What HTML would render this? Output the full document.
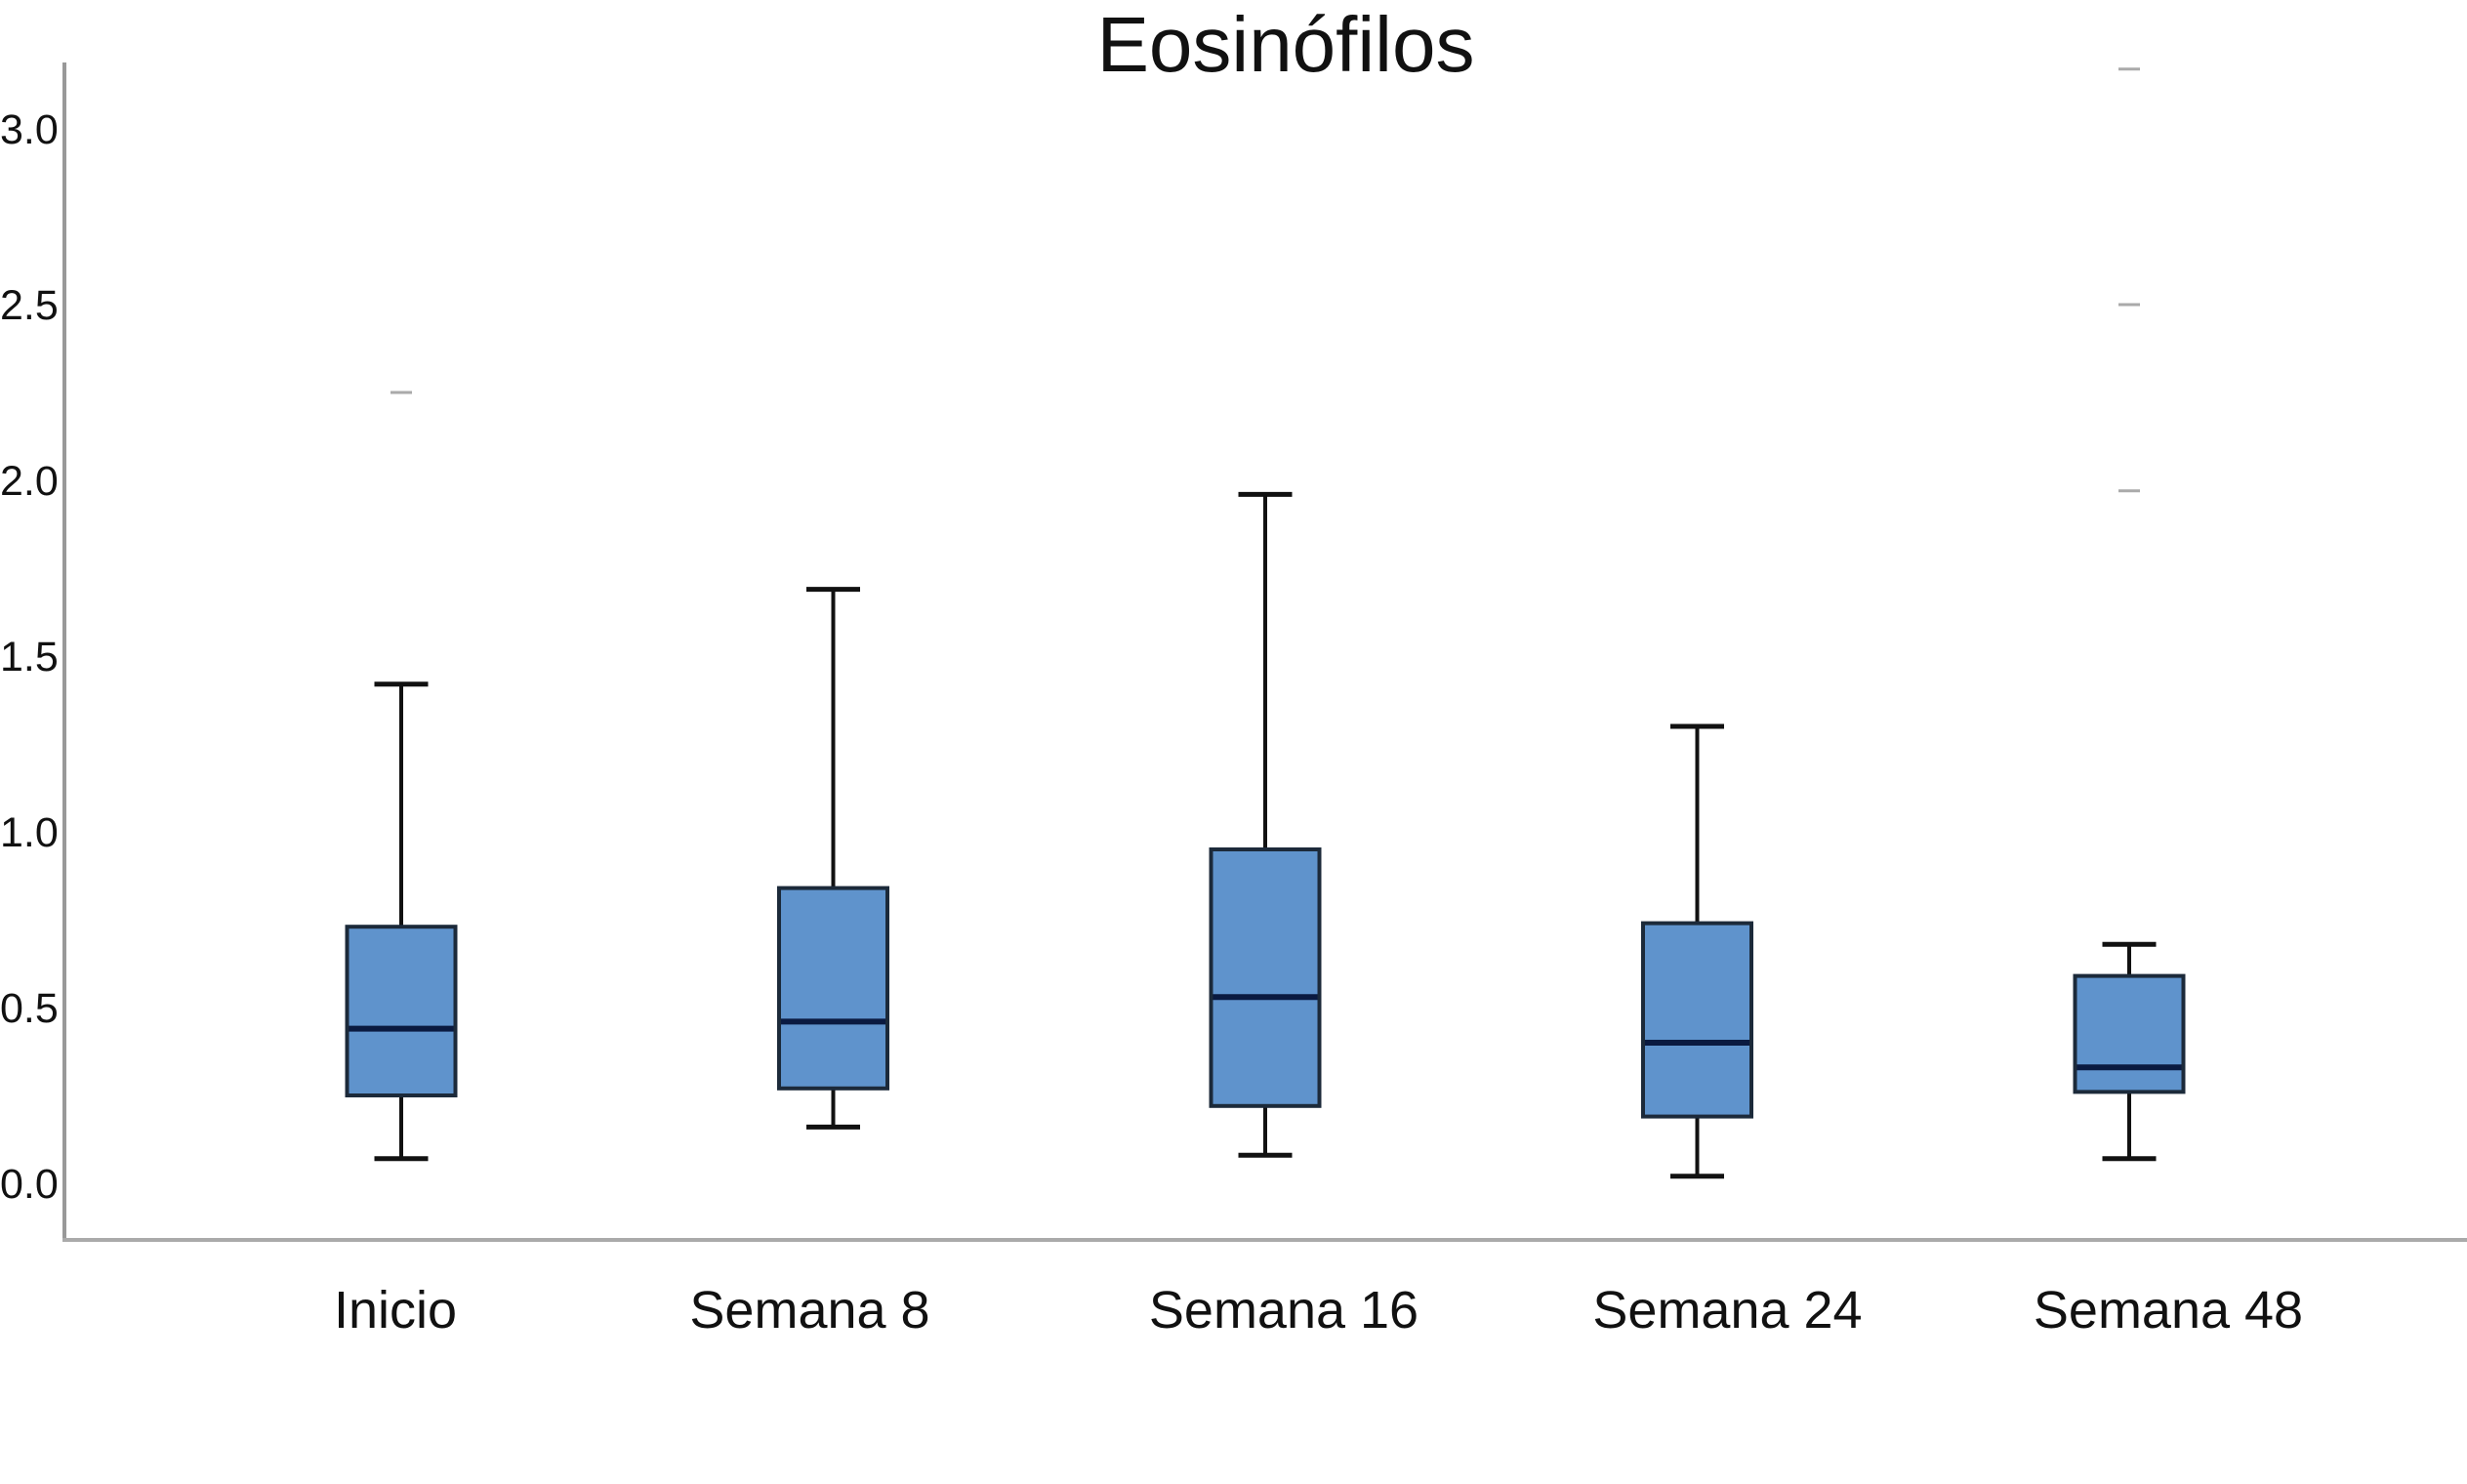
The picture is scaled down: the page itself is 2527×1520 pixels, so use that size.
<!DOCTYPE html>
<html><head><meta charset="utf-8"><style>
html,body{margin:0;padding:0;background:#fff;}
svg{display:block;font-family:"Liberation Sans",sans-serif;}
</style></head><body>
<svg id="chart" width="2527" height="1520" viewBox="0 0 2527 1520">
<text x="1317" y="73" font-size="80" text-anchor="middle" fill="#111">Eosinófilos</text>
<g id="yticks"></g>
<g id="boxes"></g>
<g id="xlabels"></g>
<line x1="66" y1="64" x2="66" y2="1271" stroke="#999" stroke-width="4"/>
<line x1="64" y1="1270" x2="2527" y2="1270" stroke="#aaa" stroke-width="4"/>
</svg>
<script>
const categories=["Inicio","Semana 8","Semana 16","Semana 24","Semana 48"];
const whiskerLow=[0.07,0.16,0.08,0.02,0.07];
const q1=[0.25,0.27,0.22,0.19,0.26];
const median=[0.44,0.46,0.53,0.40,0.33];
const q3=[0.73,0.84,0.95,0.74,0.59];
const whiskerHigh=[1.42,1.69,1.96,1.30,0.68];
const outliers=[[2.25],[],[],[],[1.97,2.50,3.17]];
const yTicks=[0,0.5,1,1.5,2,2.5,3];
const yTickLabels=["0.0","0.5","1.0","1.5","2.0","2.5","3.0"];

const NS="http://www.w3.org/2000/svg";
const labelShift=[-6,-24,19,31,40];
function y(v){return 1212-v*360;}
function x(i){return 411+i*442.5;}
function mk(tag,attrs,parent){const e=document.createElementNS(NS,tag);for(const k in attrs)e.setAttribute(k,attrs[k]);parent.appendChild(e);return e;}
const yg=document.getElementById('yticks');
yTicks.forEach((t,i)=>{
  const e=mk('text',{x:0,y:y(t)+15,'font-size':43,fill:'#111'},yg);
  e.textContent=yTickLabels[i];
  
  
});
const bg=document.getElementById('boxes');
const xg=document.getElementById('xlabels');
categories.forEach((c,i)=>{
  const cx=x(i),bw=111,cw=55;
  const g=mk('g',{},bg);
  
  
  const w1=mk('line',{x1:cx,x2:cx,y1:y(whiskerLow[i]),y2:y(whiskerHigh[i]),stroke:'#111','stroke-width':4},g);
  
  
  const c1=mk('line',{x1:cx-cw/2,x2:cx+cw/2,y1:y(whiskerHigh[i]),y2:y(whiskerHigh[i]),stroke:'#111','stroke-width':5},g);
  
  
  const c2=mk('line',{x1:cx-cw/2,x2:cx+cw/2,y1:y(whiskerLow[i]),y2:y(whiskerLow[i]),stroke:'#111','stroke-width':5},g);
  
  
  const r=mk('rect',{x:cx-bw/2,y:y(q3[i]),width:bw,height:y(q1[i])-y(q3[i]),fill:'#5f93cc',stroke:'#1c2a3a','stroke-width':4},g);
  
  
  const m=mk('line',{x1:cx-bw/2+2,x2:cx+bw/2-2,y1:y(median[i]),y2:y(median[i]),stroke:'#0a1a40','stroke-width':6},g);
  
  
  outliers[i].forEach(o=>{
    const d=mk('line',{x1:cx-11,x2:cx+11,y1:y(o),y2:y(o),stroke:'#aaa','stroke-width':3},g);
    
    
  });
  const t=mk('text',{x:cx+labelShift[i],y:1360,'font-size':54,'text-anchor':'middle',fill:'#111'},xg);
  t.textContent=c;
  
  
});
</script>
</body></html>
